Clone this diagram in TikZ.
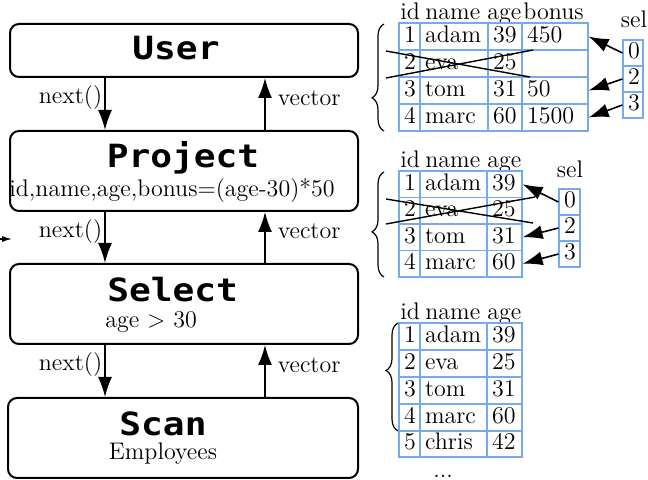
\documentclass[tikz,border=0pt]{standalone}
\usepackage{fontspec}
\newfontfamily\titlefont[FakeStretch=1.13]{DejaVu Sans Mono}
\usetikzlibrary{arrows.meta,decorations.pathreplacing}
\definecolor{cellblue}{RGB}{120,170,235}

% one left-aligned table cell: name, x1, y1, x2, y2, text
\newcommand\tabcell[6]{%
  \pgfmathsetmacro\cellw{(#4-#2)*0.5-5}%
  \pgfmathsetmacro\cellh{(#5-#3)*0.5}%
  \node[tcell, text width=\cellw pt, minimum height=\cellh pt]
    (#1) at ({(#2+#4)/2},{(#3+#5)/2}) {#6};}

\tikzset{
  opbox/.style={draw, line width=1pt, rounded corners=4.5pt, inner sep=0pt},
  optitle/.style={font=\titlefont\bfseries\fontsize{16}{18}\selectfont, anchor=base,
    inner sep=0pt, text depth=0pt},
  opsub/.style={font=\fontsize{12}{14}\selectfont, anchor=base, inner sep=0pt},
  flow/.style={-{Latex[length=10pt,width=7pt]}, line width=0.8pt},
  lbl/.style={font=\fontsize{12}{14}\selectfont, inner sep=1pt},
  tcell/.style={draw=cellblue, line width=0.6pt, inner xsep=2.5pt, inner ysep=0pt,
    align=left, font=\fontsize{12}{14}\selectfont, text height=8.5pt, text depth=2.5pt},
  colhead/.style={font=\fontsize{12}{14}\selectfont, anchor=base west, inner sep=0pt},
  selhead/.style={font=\fontsize{12}{14}\selectfont, anchor=base, inner sep=0pt},
  selarrow/.style={-{Latex[length=10pt,width=7pt]}, line width=0.8pt},
  strike/.style={line width=0.7pt},
  rowbrace/.style={decorate, decoration={brace, amplitude=6pt, aspect=#1}, line width=0.6pt}
}

\begin{document}
\begin{tikzpicture}[x=0.5pt, y=-0.5pt]
\useasboundingbox (0,0) rectangle (648,480);
\clip (0,0) rectangle (648,480);

% ---------- operator pipeline ----------
\node[opbox, minimum width=174pt, minimum height=26.5pt] (User) at (184,50.5) {};
\node[opbox, minimum width=174pt, minimum height=40pt] (Project) at (184,171) {};
\node[opbox, minimum width=174pt, minimum height=40pt] (Select) at (184,304) {};
\node[opbox, minimum width=175pt, minimum height=40pt] (Scan) at (183,438) {};

\node[optitle] (tUser) at (176,60) {User};
\node[optitle] (tProject) at (183,168) {Project};
\node[opsub] (sProject) at (172,197) {id,name,age,bonus=(age-30)*50};
\node[optitle, anchor=base west] (tSelect) at (107,302) {Select};
\node[opsub, anchor=base west] (sSelect) at (105,328) {age $>$ 30};
\node[optitle] (tScan) at (163,436) {Scan};
\node[opsub] (sScan) at (163,460) {Employees};

\coordinate (xn) at (105,0);
\coordinate (xv) at (265,0);
\draw[flow] (User.south -| xn) -- node[lbl, left, yshift=3pt] {next()} (Project.north -| xn);
\draw[flow] (Project.north -| xv) -- node[lbl, right, xshift=5pt, yshift=3pt] {vector} (User.south -| xv);
\draw[flow] (Project.south -| xn) -- node[lbl, left, yshift=3pt] {next()} (Select.north -| xn);
\draw[flow] (Select.north -| xv) -- node[lbl, right, xshift=5pt, yshift=3pt] {vector} (Project.south -| xv);
\draw[flow] (Select.south -| xn) -- node[lbl, left, yshift=3pt] {next()} (Scan.north -| xn);
\draw[flow] (Scan.north -| xv) -- node[lbl, right, xshift=5pt, yshift=3pt] {vector} (Select.south -| xv);

% arrow entering from the left margin
\coordinate (inA) at (-20,239);
\coordinate (inB) at (12,239);
\draw[-{Latex[length=5pt,width=3pt]}, line width=0.6pt] (inA) -- (inB);

% ---------- table after Project ----------
\node[colhead] (h1a) at (400,20) {id};
\node[colhead] (h1b) at (425,20) {name};
\node[colhead] (h1c) at (487,20) {age};
\node[colhead] (h1d) at (523,20) {bonus};
\tabcell{p11}{399}{23}{420}{50}{1}
\tabcell{p12}{420}{23}{488}{50}{adam}
\tabcell{p13}{488}{23}{522}{50}{39}
\tabcell{p14}{522}{23}{588}{50}{450}
\tabcell{p21}{399}{50}{420}{77}{2}
\tabcell{p22}{420}{50}{488}{77}{eva}
\tabcell{p23}{488}{50}{522}{77}{25}
\tabcell{p24}{522}{50}{588}{77}{}
\tabcell{p31}{399}{77}{420}{104}{3}
\tabcell{p32}{420}{77}{488}{104}{tom}
\tabcell{p33}{488}{77}{522}{104}{31}
\tabcell{p34}{522}{77}{588}{104}{50}
\tabcell{p41}{399}{104}{420}{131}{4}
\tabcell{p42}{420}{104}{488}{131}{marc}
\tabcell{p43}{488}{104}{522}{131}{60}
\tabcell{p44}{522}{104}{588}{131}{1500}
\draw[strike] (386,51) -- (530,77);
\draw[strike] (386,78) -- (533,50);
\draw[rowbrace=0.31] (384,131) -- (384,24);

\node[selhead] (hs1) at (634,28) {sel};
\tabcell{ps0}{623}{40}{643}{66}{0}
\tabcell{ps2}{623}{66}{643}{92}{2}
\tabcell{ps3}{623}{92}{643}{118}{3}
\draw[selarrow] (ps0.west) -- (p14.east);
\draw[selarrow] (ps2.west) -- (p34.east);
\draw[selarrow] (ps3.west) -- (p44.east);

% ---------- table after Select ----------
\node[colhead] (h2a) at (400,168) {id};
\node[colhead] (h2b) at (425,168) {name};
\node[colhead] (h2c) at (487,168) {age};
\tabcell{s11}{399}{171}{420}{197.5}{1}
\tabcell{s12}{420}{171}{487}{197.5}{adam}
\tabcell{s13}{487}{171}{522}{197.5}{39}
\tabcell{s21}{399}{197.5}{420}{224}{2}
\tabcell{s22}{420}{197.5}{487}{224}{eva}
\tabcell{s23}{487}{197.5}{522}{224}{25}
\tabcell{s31}{399}{224}{420}{250.5}{3}
\tabcell{s32}{420}{224}{487}{250.5}{tom}
\tabcell{s33}{487}{224}{522}{250.5}{31}
\tabcell{s41}{399}{250.5}{420}{277}{4}
\tabcell{s42}{420}{250.5}{487}{277}{marc}
\tabcell{s43}{487}{250.5}{522}{277}{60}
\draw[strike] (386,199) -- (533,223);
\draw[strike] (386,224) -- (535,197);
\draw[rowbrace=0.43] (384,277) -- (384,172);

\node[selhead] (hs2) at (570,178) {sel};
\tabcell{ss0}{559}{189}{580}{215}{0}
\tabcell{ss2}{559}{215}{580}{241}{2}
\tabcell{ss3}{559}{241}{580}{267}{3}
\draw[selarrow] (ss0.west) -- (s13.east);
\draw[selarrow] (ss2.west) -- (s33.east);
\draw[selarrow] (ss3.west) -- (s43.east);

% ---------- table read by Scan ----------
\node[colhead] (h3a) at (400,320) {id};
\node[colhead] (h3b) at (425,320) {name};
\node[colhead] (h3c) at (487,320) {age};
\tabcell{e11}{399}{323}{420}{350}{1}
\tabcell{e12}{420}{323}{487}{350}{adam}
\tabcell{e13}{487}{323}{522}{350}{39}
\tabcell{e21}{399}{350}{420}{377}{2}
\tabcell{e22}{420}{350}{487}{377}{eva}
\tabcell{e23}{487}{350}{522}{377}{25}
\tabcell{e31}{399}{377}{420}{404}{3}
\tabcell{e32}{420}{377}{487}{404}{tom}
\tabcell{e33}{487}{377}{522}{404}{31}
\tabcell{e41}{399}{404}{420}{431}{4}
\tabcell{e42}{420}{404}{487}{431}{marc}
\tabcell{e43}{487}{404}{522}{431}{60}
\tabcell{e51}{399}{431}{420}{457}{5}
\tabcell{e52}{420}{431}{487}{457}{chris}
\tabcell{e53}{487}{431}{522}{457}{42}
\draw[rowbrace=0.56] (398,431) -- (398,323);
\node[colhead] (more) at (433,478) {...};
\end{tikzpicture}
\end{document}
